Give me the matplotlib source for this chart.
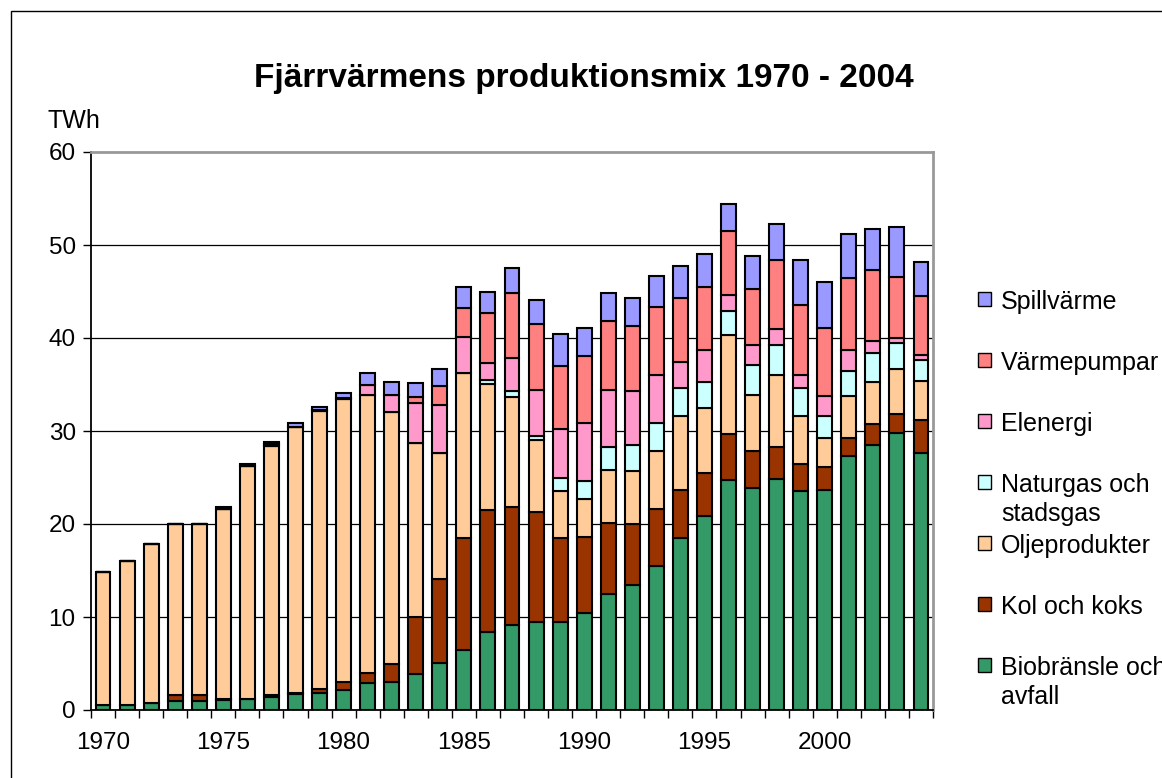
import numpy as np
import matplotlib.pyplot as plt
from matplotlib.patches import Rectangle

plt.rcParams['font.family'] = ['Liberation Sans', 'DejaVu Sans']

years = list(range(1970, 2005))

# TWh per year, bottom to top of the stack
bio = [0.5, 0.5, 0.7, 1.0, 1.0, 1.1, 1.2, 1.4, 1.7, 1.8, 2.2, 2.9, 3.0, 3.9, 5.1, 6.5, 8.4, 9.1,
       9.5, 9.5, 10.4, 12.5, 13.4, 15.5, 18.5, 20.9, 24.7, 23.9, 24.8, 23.5, 23.7, 27.3, 28.5, 29.8, 27.6]
kol = [0, 0, 0, 0.6, 0.6, 0.1, 0, 0.2, 0.1, 0.5, 0.8, 1.1, 1.9, 6.1, 9.0, 12.0, 13.1, 12.7,
       11.8, 9.0, 8.2, 7.6, 6.6, 6.1, 5.2, 4.6, 5.0, 3.9, 3.5, 2.9, 2.4, 2.0, 2.2, 2.0, 3.6]
olja = [14.3, 15.5, 17.1, 18.4, 18.4, 20.4, 25.0, 26.8, 28.6, 29.8, 30.4, 29.9, 27.1, 18.7, 13.5, 17.7, 13.6, 11.9,
        7.7, 5.0, 4.1, 5.7, 5.7, 6.3, 7.9, 7.0, 10.6, 6.1, 7.7, 5.2, 3.2, 4.5, 4.6, 4.9, 4.2]
gas = [0, 0, 0, 0, 0, 0, 0, 0, 0, 0, 0, 0, 0, 0, 0, 0, 0.4, 0.6,
       0.5, 1.5, 1.9, 2.5, 2.8, 3.0, 3.0, 2.8, 2.6, 3.2, 3.2, 3.0, 2.3, 2.7, 3.1, 2.8, 2.2]
el = [0, 0, 0, 0, 0, 0, 0, 0.2, 0, 0.2, 0.2, 1.0, 1.9, 4.3, 5.2, 3.9, 1.8, 3.6,
      4.9, 5.2, 6.3, 6.1, 5.8, 5.1, 2.8, 3.4, 1.7, 2.1, 1.8, 1.4, 2.2, 2.2, 1.3, 0.5, 0.6]
vp = [0, 0, 0, 0, 0, 0, 0, 0, 0, 0, 0, 0, 0, 0.7, 2.0, 3.1, 5.4, 6.9,
      7.1, 6.8, 7.2, 7.4, 7.0, 7.3, 6.9, 6.8, 6.9, 6.1, 7.4, 7.6, 7.3, 7.7, 7.6, 6.6, 6.3]
spill = [0, 0, 0, 0, 0, 0.2, 0.3, 0.2, 0.5, 0.3, 0.5, 1.3, 1.4, 1.5, 1.9, 2.3, 2.2, 2.7,
         2.6, 3.4, 3.0, 3.0, 3.0, 3.4, 3.4, 3.5, 2.9, 3.5, 3.9, 4.8, 4.9, 4.8, 4.4, 5.3, 3.7]

series = [bio, kol, olja, gas, el, vp, spill]
labels = ['Biobränsle och\navfall', 'Kol och koks', 'Oljeprodukter', 'Naturgas och\nstadsgas',
          'Elenergi', 'Värmepumpar', 'Spillvärme']
colors = ['#339966', '#993300', '#FFCC99', '#CCFFFF', '#FF99CC', '#FF8080', '#9999FF']

fig = plt.figure(figsize=(11.62, 7.78), dpi=100)
ax = fig.add_axes([91 / 1162, 1 - 710 / 778, 842 / 1162, 558 / 778])

x = np.arange(len(years))
bottom = np.zeros(len(years))
for vals, col in zip(series, colors):
    ax.bar(x, vals, bottom=bottom, width=0.62, color=col, edgecolor='black', linewidth=1.5, zorder=3)
    bottom += np.array(vals)

ax.set_xlim(-0.5, len(years) - 0.5)
ax.set_ylim(0, 60)
ax.set_yticks(range(0, 61, 10))
ax.tick_params(axis='y', labelsize=17.5, length=6, width=1, pad=5)
for v in range(10, 60, 10):
    ax.axhline(v, color='black', linewidth=0.9, zorder=1)

ax.set_xticks(x[::5])
ax.set_xticklabels([str(y) for y in years[::5]])
ax.set_xticks(np.arange(-0.5, len(years), 1), minor=True)
ax.tick_params(axis='x', which='major', length=0, labelsize=17.5, pad=16)
ax.tick_params(axis='x', which='minor', length=6, width=1, direction='out')

ax.spines['left'].set_color('black')
ax.spines['left'].set_linewidth(1.3)
ax.spines['bottom'].set_color('black')
ax.spines['bottom'].set_linewidth(1.3)
for s in ['top', 'right']:
    ax.spines[s].set_color('#999999')
    ax.spines[s].set_linewidth(2)

fig.text(584 / 1162, 1 - 87 / 778, 'Fjärrvärmens produktionsmix 1970 - 2004',
         ha='center', va='baseline', fontsize=24, fontweight='bold')
fig.text(47 / 1162, 1 - 128 / 778, 'TWh', ha='left', va='baseline', fontsize=18)

# legend, top entry first, evenly stepped; second lines hang below
for i, (lab, col) in enumerate(zip(labels[::-1], colors[::-1])):
    yc = 299 + i * 61
    fig.patches.append(Rectangle((978 / 1162, 1 - (yc + 7) / 778), 13 / 1162, 14 / 778,
                                 transform=fig.transFigure, facecolor=col,
                                 edgecolor='black', linewidth=1))
    for j, line in enumerate(lab.split('\n')):
        fig.text(1001 / 1162, 1 - (yc + 10 + 29 * j) / 778, line, ha='left', va='baseline',
                 fontsize=18)

# chart frame
fig.patches.append(Rectangle((11 / 1162, -0.1), 1.2, 1.1 - 11 / 778,
                             transform=fig.transFigure, fill=False,
                             edgecolor='black', linewidth=1))

fig.savefig('out.png', dpi=100)
